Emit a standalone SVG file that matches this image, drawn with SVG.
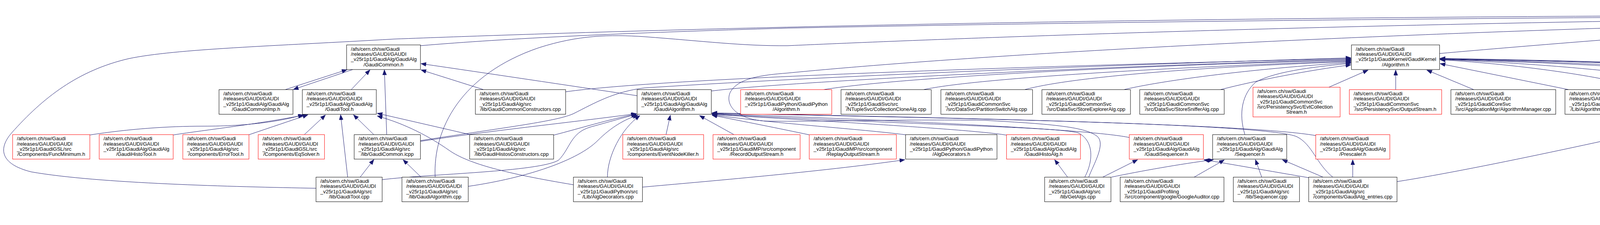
<svg xmlns="http://www.w3.org/2000/svg" width="6047" height="576" viewBox="0 0 6047 576">
<style>
.n rect{fill:#fff;stroke:#000;stroke-width:1}
.r rect{stroke:#f00}
.g rect{fill:#bfbfbf}
text{font-family:"Liberation Sans",Arial,Helvetica,sans-serif;font-size:13px;fill:#000}
.c{text-anchor:middle}
.e path{fill:none;stroke:#191970;stroke-width:1;marker-end:url(#ah)}
</style>
<defs>
<marker id="ah" markerWidth="14" markerHeight="11" refX="13" refY="5" orient="auto" markerUnits="userSpaceOnUse"><path d="M0,0 L13,5 L0,10 z" fill="#191970" stroke="#191970" stroke-width="1"/></marker>
</defs>
<rect x="0" y="0" width="6047" height="576" fill="#fff"/>
<g class="e" id="edges">
<path d="M730,229.5 L888,178.5"/>
<path d="M903,178 L751,229"/>
<path d="M899,229.5 L947,179"/>
<path d="M990,344.7 L984,179"/>
<path d="M230,345.5 C330,330 430,323 520,323 C640,323 720,310 776,294"/>
<path d="M443,345.5 C530,332 660,318 778,294.5"/>
<path d="M637,345 L788,294"/>
<path d="M779,344.7 L833,294.5"/>
<path d="M890,453.5 L872,294"/>
<path d="M957,344.7 L905,294"/>
<path d="M1204,344.7 L966,290"/>
<path d="M1468,473 C1300,445 1200,420 1150,385 C1100,350 1040,318 966,297"/>
<path d="M922,453.5 L957,408.5"/>
<path d="M1078,453.5 L1032,409"/>
<path d="M809,482 C600,478 250,470 80,440 C0,420 -5,380 30,340 C110,250 200,180 330,150 C450,125 700,118 1008,100 C1800,70 3000,40 5066,38"/>
<path d="M1076,117 C1300,98 1600,84 2016,72 C3000,52 4200,42 5066,40.5"/>
<path d="M1114,453.5 C1108,330 1180,190 1380,122 C1480,90 1560,88 1650,94 C1800,105 1900,118 2016,117 C2400,100 3500,55 5066,42.5"/>
<path d="M2787,453.5 C2800,420 2830,370 2810,350 C2780,325 2700,318 2520,308 C2300,305 2100,312 1960,310 C1880,305 1855,265 1870,235 C1890,200 1950,192 2016,187 C2500,140 3500,80 5066,46"/>
<path d="M3685,137 C3900,118 4300,85 4700,60 C4900,50 5000,46 5066,45"/>
<path d="M5303,115 L5233,70.5"/>
<path d="M5461,117 L5294,70"/>
<path d="M5869,116 C5700,85 5450,55 5293,45"/>
<path d="M5655,117 C5580,100 5450,72 5293,55"/>
<path d="M5270,229.5 C5200,190 5182,140 5180,70.5"/>
<path d="M5297,367 C5380,355 5450,310 5450,260 C5450,205 5400,195 5340,197 C5270,200 5240,160 5194,70.5"/>
<path d="M5750,229.5 L5750,179"/>
<path d="M1238,229.5 L1078,179"/>
<path d="M1631,245 C1450,218 1250,188 1078,163"/>
<path d="M1448,235 C1700,200 2600,170 3458,150"/>
<path d="M1076,360 C1300,325 1430,310 1470,290 C1520,265 1570,235 1650,225 C2200,190 2900,165 3458,148"/>
<path d="M1821,233 C2000,210 2800,170 3458,152"/>
<path d="M2108,229.5 C2300,198 2900,168 3458,154"/>
<path d="M2364,229.5 C2500,200 3000,172 3458,156"/>
<path d="M2623,229.5 C2750,195 3100,170 3458,158"/>
<path d="M2877,229.5 C2950,212 3150,180 3458,160"/>
<path d="M3124,229.5 C3220,205 3350,180 3458,166"/>
<path d="M3187,344.7 C3170,290 3180,240 3215,210 C3270,180 3380,170 3458,162"/>
<path d="M3402,223.3 L3502,179.5"/>
<path d="M3573,229.5 L3573,179.5"/>
<path d="M3773,229.5 L3653,179.5"/>
<path d="M4016,229.5 L3687,163"/>
<path d="M4214,229.5 C4130,200 3900,165 3687,153"/>
<path d="M4412,229.5 C4300,195 4000,165 3687,152"/>
<path d="M4626,229.5 C4550,200 4300,170 3687,151.5"/>
<path d="M4819,229.5 C4700,200 4350,168 3687,151"/>
<path d="M5016,229.5 C4850,195 4400,163 3687,150.5"/>
<path d="M5260,229.5 C5180,205 4500,165 3687,150"/>
<path d="M5218,344.7 C5215,280 5200,230 5150,215 C4900,180 4300,160 3687,149.5"/>
<path d="M1417,346 C1480,330 1560,305 1629,292"/>
<path d="M978,460 C1100,445 1380,440 1430,410 C1460,380 1460,340 1512,325 C1560,312 1600,300 1629,293"/>
<path d="M1199,477 C1350,455 1480,410 1530,360 C1565,325 1600,305 1633,295"/>
<path d="M1076,362 C1250,335 1450,315 1629,291"/>
<path d="M1555,453.5 C1555,400 1590,330 1638,296"/>
<path d="M1705,344.7 L1716,295"/>
<path d="M1879,344.7 L1791,296"/>
<path d="M2071,345 C2000,330 1900,310 1823,295"/>
<path d="M2318,345 C2200,330 2000,318 1823,294"/>
<path d="M2577,346 C2500,333 2200,315 1823,293"/>
<path d="M2777,453.5 C2800,410 2800,360 2760,340 C2700,325 2400,322 1823,292"/>
<path d="M2891,352 C2800,333 2400,312 1823,291"/>
<path d="M3368,347 C3200,318 2500,303 1823,290"/>
<path d="M3412,453.5 C3370,420 3360,370 3320,350 C3250,318 2500,303 1823,289"/>
<path d="M1645,479 C1800,465 2100,440 2316,409"/>
<path d="M2733,453.5 L2700,409"/>
<path d="M2823,453.5 L2912,409"/>
<path d="M2845,453.5 C2920,438 3020,420 3106,409"/>
<path d="M3057,453.5 L3134,409.5"/>
<path d="M3351,455 C3250,438 3150,420 3082,409"/>
<path d="M3230,453.5 L3214,409"/>
<path d="M3387,453.5 L3283,409"/>
<path d="M3463,453.5 L3463,409"/>
<path d="M3576,465 C3800,430 4200,340 4402,295"/>
<path d="M4494,344.7 L4494,294.5"/>
<path d="M5128,364 C5000,345 4880,320 4778,295"/>
</g>
<g id="n1" class="n g"><rect x="5066.7" y="6" width="225.3" height="63"/><text x="5077.7" y="20.5">/afs/cern.ch/sw/Gaudi</text><text x="5077.7" y="33.9">/releases/GAUDI/GAUDI</text><text x="5077.7" y="47.3">_v25r1p1/GaudiKernel/GaudiKernel</text><text class="c" x="5179.4" y="60.7">/IAlgContextSvc.h</text></g>
<g id="n2" class="n"><rect x="887.3" y="115" width="189" height="63"/><text x="898.3" y="129.5">/afs/cern.ch/sw/Gaudi</text><text x="898.3" y="142.9">/releases/GAUDI/GAUDI</text><text x="898.3" y="156.3">_v25r1p1/GaudiAlg/GaudiAlg</text><text class="c" x="981.8" y="169.7">/GaudiCommon.h</text></g>
<g id="n3" class="n"><rect x="3459.7" y="115" width="225.6" height="63"/><text x="3470.7" y="129.5">/afs/cern.ch/sw/Gaudi</text><text x="3470.7" y="142.9">/releases/GAUDI/GAUDI</text><text x="3470.7" y="156.3">_v25r1p1/GaudiKernel/GaudiKernel</text><text class="c" x="3572.5" y="169.7">/Algorithm.h</text></g>
<g id="n4" class="n"><rect x="5267.7" y="115" width="169.3" height="63"/><text x="5278.7" y="129.5">/afs/cern.ch/sw/Gaudi</text><text x="5278.7" y="142.9">/releases/GAUDI/GAUDI</text><text x="5278.7" y="156.3">_v25r1p1/GaudiAlg/src</text><text class="c" x="5352.4" y="169.7">/lib/GetAlg.cpp</text></g>
<g id="n5" class="n"><rect x="5461.3" y="115" width="169.4" height="63"/><text x="5472.3" y="129.5">/afs/cern.ch/sw/Gaudi</text><text x="5472.3" y="142.9">/releases/GAUDI/GAUDI</text><text x="5472.3" y="156.3">_v25r1p1/GaudiAud/src</text><text class="c" x="5546" y="169.7">/AlgContextAuditor.cpp</text></g>
<g id="n6" class="n"><rect x="5655" y="115" width="189.7" height="63"/><text x="5666" y="129.5">/afs/cern.ch/sw/Gaudi</text><text x="5666" y="142.9">/releases/GAUDI/GAUDI</text><text x="5666" y="156.3">_v25r1p1/GaudiCommonSvc</text><text class="c" x="5749.9" y="169.7">/src/AlgContextSvc.h</text></g>
<g id="n7" class="n"><rect x="5869" y="115" width="172.3" height="63"/><text x="5880" y="129.5">/afs/cern.ch/sw/Gaudi</text><text x="5880" y="142.9">/releases/GAUDI/GAUDI</text><text x="5880" y="156.3">_v25r1p1/GaudiKernel/src</text><text class="c" x="5955.2" y="169.7">/Lib/AlgContext.cpp</text></g>
<g id="n8" class="n"><rect x="560.7" y="229.5" width="189.3" height="63"/><text x="571.7" y="244">/afs/cern.ch/sw/Gaudi</text><text x="571.7" y="257.4">/releases/GAUDI/GAUDI</text><text x="571.7" y="270.8">_v25r1p1/GaudiAlg/GaudiAlg</text><text class="c" x="655.4" y="284.2">/GaudiCommonImp.h</text></g>
<g id="n9" class="n"><rect x="774" y="229.5" width="189.3" height="63"/><text x="785" y="244">/afs/cern.ch/sw/Gaudi</text><text x="785" y="257.4">/releases/GAUDI/GAUDI</text><text x="785" y="270.8">_v25r1p1/GaudiAlg/GaudiAlg</text><text class="c" x="868.7" y="284.2">/GaudiTool.h</text></g>
<g id="n10" class="n"><rect x="1217" y="229.5" width="231" height="63"/><text x="1228" y="244">/afs/cern.ch/sw/Gaudi</text><text x="1228" y="257.4">/releases/GAUDI/GAUDI</text><text x="1228" y="270.8">_v25r1p1/GaudiAlg/src</text><text class="c" x="1332.5" y="284.2">/lib/GaudiCommonConstructors.cpp</text></g>
<g id="n11" class="n"><rect x="1631" y="229.5" width="190" height="63"/><text x="1642" y="244">/afs/cern.ch/sw/Gaudi</text><text x="1642" y="257.4">/releases/GAUDI/GAUDI</text><text x="1642" y="270.8">_v25r1p1/GaudiAlg/GaudiAlg</text><text class="c" x="1726" y="284.2">/GaudiAlgorithm.h</text></g>
<g id="n12" class="n r"><rect x="1896" y="229.5" width="233.3" height="63"/><text x="1907" y="244">/afs/cern.ch/sw/Gaudi</text><text x="1907" y="257.4">/releases/GAUDI/GAUDI</text><text x="1907" y="270.8">_v25r1p1/GaudiPython/GaudiPython</text><text class="c" x="2012.7" y="284.2">/Algorithm.h</text></g>
<g id="n13" class="n"><rect x="2153" y="229.5" width="231" height="63"/><text x="2164" y="244">/afs/cern.ch/sw/Gaudi</text><text x="2164" y="257.4">/releases/GAUDI/GAUDI</text><text x="2164" y="270.8">_v25r1p1/GaudiSvc/src</text><text class="c" x="2268.5" y="284.2">/NTupleSvc/CollectionCloneAlg.cpp</text></g>
<g id="n14" class="n"><rect x="2408.7" y="229.5" width="234.6" height="63"/><text x="2419.7" y="244">/afs/cern.ch/sw/Gaudi</text><text x="2419.7" y="257.4">/releases/GAUDI/GAUDI</text><text x="2419.7" y="270.8">_v25r1p1/GaudiCommonSvc</text><text class="c" x="2526" y="284.2">/src/DataSvc/PartitionSwitchAlg.cpp</text></g>
<g id="n15" class="n"><rect x="2667.3" y="229.5" width="226.7" height="63"/><text x="2678.3" y="244">/afs/cern.ch/sw/Gaudi</text><text x="2678.3" y="257.4">/releases/GAUDI/GAUDI</text><text x="2678.3" y="270.8">_v25r1p1/GaudiCommonSvc</text><text class="c" x="2780.7" y="284.2">/src/DataSvc/StoreExplorerAlg.cpp</text></g>
<g id="n16" class="n"><rect x="2917.7" y="229.5" width="216.3" height="63"/><text x="2928.7" y="244">/afs/cern.ch/sw/Gaudi</text><text x="2928.7" y="257.4">/releases/GAUDI/GAUDI</text><text x="2928.7" y="270.8">_v25r1p1/GaudiCommonSvc</text><text class="c" x="3025.8" y="284.2">/src/DataSvc/StoreSnifferAlg.cpp</text></g>
<g id="n17" class="n r"><rect x="3207.7" y="223.3" width="223" height="76"/><text x="3218.7" y="237.8">/afs/cern.ch/sw/Gaudi</text><text x="3218.7" y="251.2">/releases/GAUDI/GAUDI</text><text x="3218.7" y="264.6">_v25r1p1/GaudiCommonSvc</text><text x="3218.7" y="278">/src/PersistencySvc/EvtCollection</text><text class="c" x="3319.2" y="291.4">Stream.h</text></g>
<g id="n18" class="n r"><rect x="3454.3" y="229.5" width="236.4" height="63"/><text x="3465.3" y="244">/afs/cern.ch/sw/Gaudi</text><text x="3465.3" y="257.4">/releases/GAUDI/GAUDI</text><text x="3465.3" y="270.8">_v25r1p1/GaudiCommonSvc</text><text class="c" x="3572.5" y="284.2">/src/PersistencySvc/OutputStream.h</text></g>
<g id="n19" class="n"><rect x="3714.3" y="229.5" width="268.4" height="63"/><text x="3725.3" y="244">/afs/cern.ch/sw/Gaudi</text><text x="3725.3" y="257.4">/releases/GAUDI/GAUDI</text><text x="3725.3" y="270.8">_v25r1p1/GaudiCoreSvc</text><text class="c" x="3848.5" y="284.2">/src/ApplicationMgr/AlgorithmManager.cpp</text></g>
<g id="n20" class="n"><rect x="4006.3" y="229.5" width="172.4" height="63"/><text x="4017.3" y="244">/afs/cern.ch/sw/Gaudi</text><text x="4017.3" y="257.4">/releases/GAUDI/GAUDI</text><text x="4017.3" y="270.8">_v25r1p1/GaudiKernel/src</text><text class="c" x="4092.5" y="284.2">/Lib/AlgorithmHistory.cpp</text></g>
<g id="n21" class="n"><rect x="4202.3" y="229.5" width="172.4" height="63"/><text x="4213.3" y="244">/afs/cern.ch/sw/Gaudi</text><text x="4213.3" y="257.4">/releases/GAUDI/GAUDI</text><text x="4213.3" y="270.8">_v25r1p1/GaudiKernel/src</text><text class="c" x="4288.5" y="284.2">/Lib/AlgTool.cpp</text></g>
<g id="n22" class="n"><rect x="4399" y="229.5" width="189.7" height="63"/><text x="4410" y="244">/afs/cern.ch/sw/Gaudi</text><text x="4410" y="257.4">/releases/GAUDI/GAUDI</text><text x="4410" y="270.8">_v25r1p1/GaudiAlg/GaudiAlg</text><text class="c" x="4493.9" y="284.2">/EventCounter.h</text></g>
<g id="n23" class="n"><rect x="4613" y="229.5" width="169.7" height="63"/><text x="4624" y="244">/afs/cern.ch/sw/Gaudi</text><text x="4624" y="257.4">/releases/GAUDI/GAUDI</text><text x="4624" y="270.8">_v25r1p1/GaudiMonitor</text><text class="c" x="4697.9" y="284.2">/src/HistorySvc.h</text></g>
<g id="n24" class="n"><rect x="4806.3" y="229.5" width="172.4" height="63"/><text x="4817.3" y="244">/afs/cern.ch/sw/Gaudi</text><text x="4817.3" y="257.4">/releases/GAUDI/GAUDI</text><text x="4817.3" y="270.8">_v25r1p1/GaudiKernel/src</text><text class="c" x="4892.5" y="284.2">/Lib/Bootstrap.cpp</text></g>
<g id="n25" class="n"><rect x="5002" y="229.5" width="172.7" height="63"/><text x="5013" y="244">/afs/cern.ch/sw/Gaudi</text><text x="5013" y="257.4">/releases/GAUDI/GAUDI</text><text x="5013" y="270.8">_v25r1p1/GaudiKernel/src</text><text class="c" x="5088.4" y="284.2">/Util/genconf.cpp</text></g>
<g id="n26" class="n"><rect x="5250.3" y="229.5" width="172.4" height="63"/><text x="5261.3" y="244">/afs/cern.ch/sw/Gaudi</text><text x="5261.3" y="257.4">/releases/GAUDI/GAUDI</text><text x="5261.3" y="270.8">_v25r1p1/GaudiKernel/src</text><text class="c" x="5336.5" y="284.2">/Lib/Algorithm.cpp</text></g>
<g id="n27" class="n"><rect x="5655" y="229.5" width="189.7" height="63"/><text x="5666" y="244">/afs/cern.ch/sw/Gaudi</text><text x="5666" y="257.4">/releases/GAUDI/GAUDI</text><text x="5666" y="270.8">_v25r1p1/GaudiCommonSvc</text><text class="c" x="5749.9" y="284.2">/src/AlgContextSvc.cpp</text></g>
<g id="n28" class="n r"><rect x="32.3" y="344.7" width="197.7" height="62.6"/><text x="43.3" y="359.2">/afs/cern.ch/sw/Gaudi</text><text x="43.3" y="372.6">/releases/GAUDI/GAUDI</text><text x="43.3" y="386">_v25r1p1/GaudiGSL/src</text><text class="c" x="131.2" y="399.4">/Components/FuncMinimum.h</text></g>
<g id="n29" class="n r"><rect x="254" y="344.7" width="189.3" height="62.6"/><text x="265" y="359.2">/afs/cern.ch/sw/Gaudi</text><text x="265" y="372.6">/releases/GAUDI/GAUDI</text><text x="265" y="386">_v25r1p1/GaudiAlg/GaudiAlg</text><text class="c" x="348.7" y="399.4">/GaudiHistoTool.h</text></g>
<g id="n30" class="n r"><rect x="468" y="344.7" width="169.3" height="62.6"/><text x="479" y="359.2">/afs/cern.ch/sw/Gaudi</text><text x="479" y="372.6">/releases/GAUDI/GAUDI</text><text x="479" y="386">_v25r1p1/GaudiAlg/src</text><text class="c" x="552.7" y="399.4">/components/ErrorTool.h</text></g>
<g id="n31" class="n r"><rect x="661" y="344.7" width="169.7" height="62.6"/><text x="672" y="359.2">/afs/cern.ch/sw/Gaudi</text><text x="672" y="372.6">/releases/GAUDI/GAUDI</text><text x="672" y="386">_v25r1p1/GaudiGSL/src</text><text class="c" x="745.9" y="399.4">/Components/EqSolver.h</text></g>
<g id="n32" class="n"><rect x="906.7" y="344.7" width="169.6" height="62.6"/><text x="917.7" y="359.2">/afs/cern.ch/sw/Gaudi</text><text x="917.7" y="372.6">/releases/GAUDI/GAUDI</text><text x="917.7" y="386">_v25r1p1/GaudiAlg/src</text><text class="c" x="991.5" y="399.4">/lib/GaudiCommon.icpp</text></g>
<g id="n33" class="n"><rect x="1202.3" y="344.7" width="215" height="62.6"/><text x="1213.3" y="359.2">/afs/cern.ch/sw/Gaudi</text><text x="1213.3" y="372.6">/releases/GAUDI/GAUDI</text><text x="1213.3" y="386">_v25r1p1/GaudiAlg/src</text><text class="c" x="1309.8" y="399.4">/lib/GaudiHistosConstructors.cpp</text></g>
<g id="n34" class="n r"><rect x="1594.3" y="344.7" width="207" height="62.6"/><text x="1605.3" y="359.2">/afs/cern.ch/sw/Gaudi</text><text x="1605.3" y="372.6">/releases/GAUDI/GAUDI</text><text x="1605.3" y="386">_v25r1p1/GaudiAlg/src</text><text class="c" x="1697.8" y="399.4">/components/EventNodeKiller.h</text></g>
<g id="n35" class="n r"><rect x="1825.3" y="344.7" width="223" height="62.6"/><text x="1836.3" y="359.2">/afs/cern.ch/sw/Gaudi</text><text x="1836.3" y="372.6">/releases/GAUDI/GAUDI</text><text x="1836.3" y="386">_v25r1p1/GaudiMP/src/component</text><text class="c" x="1936.8" y="399.4">/RecordOutputStream.h</text></g>
<g id="n36" class="n r"><rect x="2071.7" y="344.7" width="223" height="62.6"/><text x="2082.7" y="359.2">/afs/cern.ch/sw/Gaudi</text><text x="2082.7" y="372.6">/releases/GAUDI/GAUDI</text><text x="2082.7" y="386">_v25r1p1/GaudiMP/src/component</text><text class="c" x="2183.2" y="399.4">/ReplayOutputStream.h</text></g>
<g id="n37" class="n"><rect x="2318.3" y="344.7" width="234" height="62.6"/><text x="2329.3" y="359.2">/afs/cern.ch/sw/Gaudi</text><text x="2329.3" y="372.6">/releases/GAUDI/GAUDI</text><text x="2329.3" y="386">_v25r1p1/GaudiPython/GaudiPython</text><text class="c" x="2435.3" y="399.4">/AlgDecorators.h</text></g>
<g id="n38" class="n r"><rect x="2576.7" y="344.7" width="189.3" height="62.6"/><text x="2587.7" y="359.2">/afs/cern.ch/sw/Gaudi</text><text x="2587.7" y="372.6">/releases/GAUDI/GAUDI</text><text x="2587.7" y="386">_v25r1p1/GaudiAlg/GaudiAlg</text><text class="c" x="2671.4" y="399.4">/GaudiHistoAlg.h</text></g>
<g id="n39" class="n r"><rect x="2891" y="344.7" width="189.7" height="62.6"/><text x="2902" y="359.2">/afs/cern.ch/sw/Gaudi</text><text x="2902" y="372.6">/releases/GAUDI/GAUDI</text><text x="2902" y="386">_v25r1p1/GaudiAlg/GaudiAlg</text><text class="c" x="2985.9" y="399.4">/GaudiSequencer.h</text></g>
<g id="n40" class="n"><rect x="3104.3" y="344.7" width="189.7" height="62.6"/><text x="3115.3" y="359.2">/afs/cern.ch/sw/Gaudi</text><text x="3115.3" y="372.6">/releases/GAUDI/GAUDI</text><text x="3115.3" y="386">_v25r1p1/GaudiAlg/GaudiAlg</text><text class="c" x="3199.2" y="399.4">/Sequencer.h</text></g>
<g id="n41" class="n r"><rect x="3368.3" y="344.7" width="189.7" height="62.6"/><text x="3379.3" y="359.2">/afs/cern.ch/sw/Gaudi</text><text x="3379.3" y="372.6">/releases/GAUDI/GAUDI</text><text x="3379.3" y="386">_v25r1p1/GaudiAlg/GaudiAlg</text><text class="c" x="3463.2" y="399.4">/Prescaler.h</text></g>
<g id="n42" class="n"><rect x="4409" y="344.7" width="169.7" height="62.6"/><text x="4420" y="359.2">/afs/cern.ch/sw/Gaudi</text><text x="4420" y="372.6">/releases/GAUDI/GAUDI</text><text x="4420" y="386">_v25r1p1/GaudiAlg/src</text><text class="c" x="4493.9" y="399.4">/lib/EventCounter.cpp</text></g>
<g id="n43" class="n"><rect x="5127.7" y="344.7" width="169.6" height="62.6"/><text x="5138.7" y="359.2">/afs/cern.ch/sw/Gaudi</text><text x="5138.7" y="372.6">/releases/GAUDI/GAUDI</text><text x="5138.7" y="386">_v25r1p1/GaudiMonitor</text><text class="c" x="5212.5" y="399.4">/src/HistorySvc.cpp</text></g>
<g id="n44" class="n"><rect x="809" y="453.5" width="169.3" height="63"/><text x="820" y="468">/afs/cern.ch/sw/Gaudi</text><text x="820" y="481.4">/releases/GAUDI/GAUDI</text><text x="820" y="494.8">_v25r1p1/GaudiAlg/src</text><text class="c" x="893.7" y="508.2">/lib/GaudiTool.cpp</text></g>
<g id="n45" class="n"><rect x="1029" y="453.5" width="169.7" height="63"/><text x="1040" y="468">/afs/cern.ch/sw/Gaudi</text><text x="1040" y="481.4">/releases/GAUDI/GAUDI</text><text x="1040" y="494.8">_v25r1p1/GaudiAlg/src</text><text class="c" x="1113.9" y="508.2">/lib/GaudiAlgorithm.cpp</text></g>
<g id="n46" class="n"><rect x="1468" y="453.5" width="176.7" height="63"/><text x="1479" y="468">/afs/cern.ch/sw/Gaudi</text><text x="1479" y="481.4">/releases/GAUDI/GAUDI</text><text x="1479" y="494.8">_v25r1p1/GaudiPython/src</text><text class="c" x="1556.4" y="508.2">/Lib/AlgDecorators.cpp</text></g>
<g id="n47" class="n"><rect x="2674.3" y="453.5" width="169.7" height="63"/><text x="2685.3" y="468">/afs/cern.ch/sw/Gaudi</text><text x="2685.3" y="481.4">/releases/GAUDI/GAUDI</text><text x="2685.3" y="494.8">_v25r1p1/GaudiAlg/src</text><text class="c" x="2759.2" y="508.2">/lib/GetAlgs.cpp</text></g>
<g id="n48" class="n"><rect x="2867.7" y="453.5" width="265.6" height="63"/><text x="2878.7" y="468">/afs/cern.ch/sw/Gaudi</text><text x="2878.7" y="481.4">/releases/GAUDI/GAUDI</text><text x="2878.7" y="494.8">_v25r1p1/GaudiProfiling</text><text class="c" x="3000.5" y="508.2">/src/component/google/GoogleAuditor.cpp</text></g>
<g id="n49" class="n"><rect x="3157.3" y="453.5" width="169.4" height="63"/><text x="3168.3" y="468">/afs/cern.ch/sw/Gaudi</text><text x="3168.3" y="481.4">/releases/GAUDI/GAUDI</text><text x="3168.3" y="494.8">_v25r1p1/GaudiAlg/src</text><text class="c" x="3242" y="508.2">/lib/Sequencer.cpp</text></g>
<g id="n50" class="n"><rect x="3350.3" y="453.5" width="226" height="63"/><text x="3361.3" y="468">/afs/cern.ch/sw/Gaudi</text><text x="3361.3" y="481.4">/releases/GAUDI/GAUDI</text><text x="3361.3" y="494.8">_v25r1p1/GaudiAlg/src</text><text class="c" x="3463.3" y="508.2">/components/GaudiAlg_entries.cpp</text></g>
</svg>
